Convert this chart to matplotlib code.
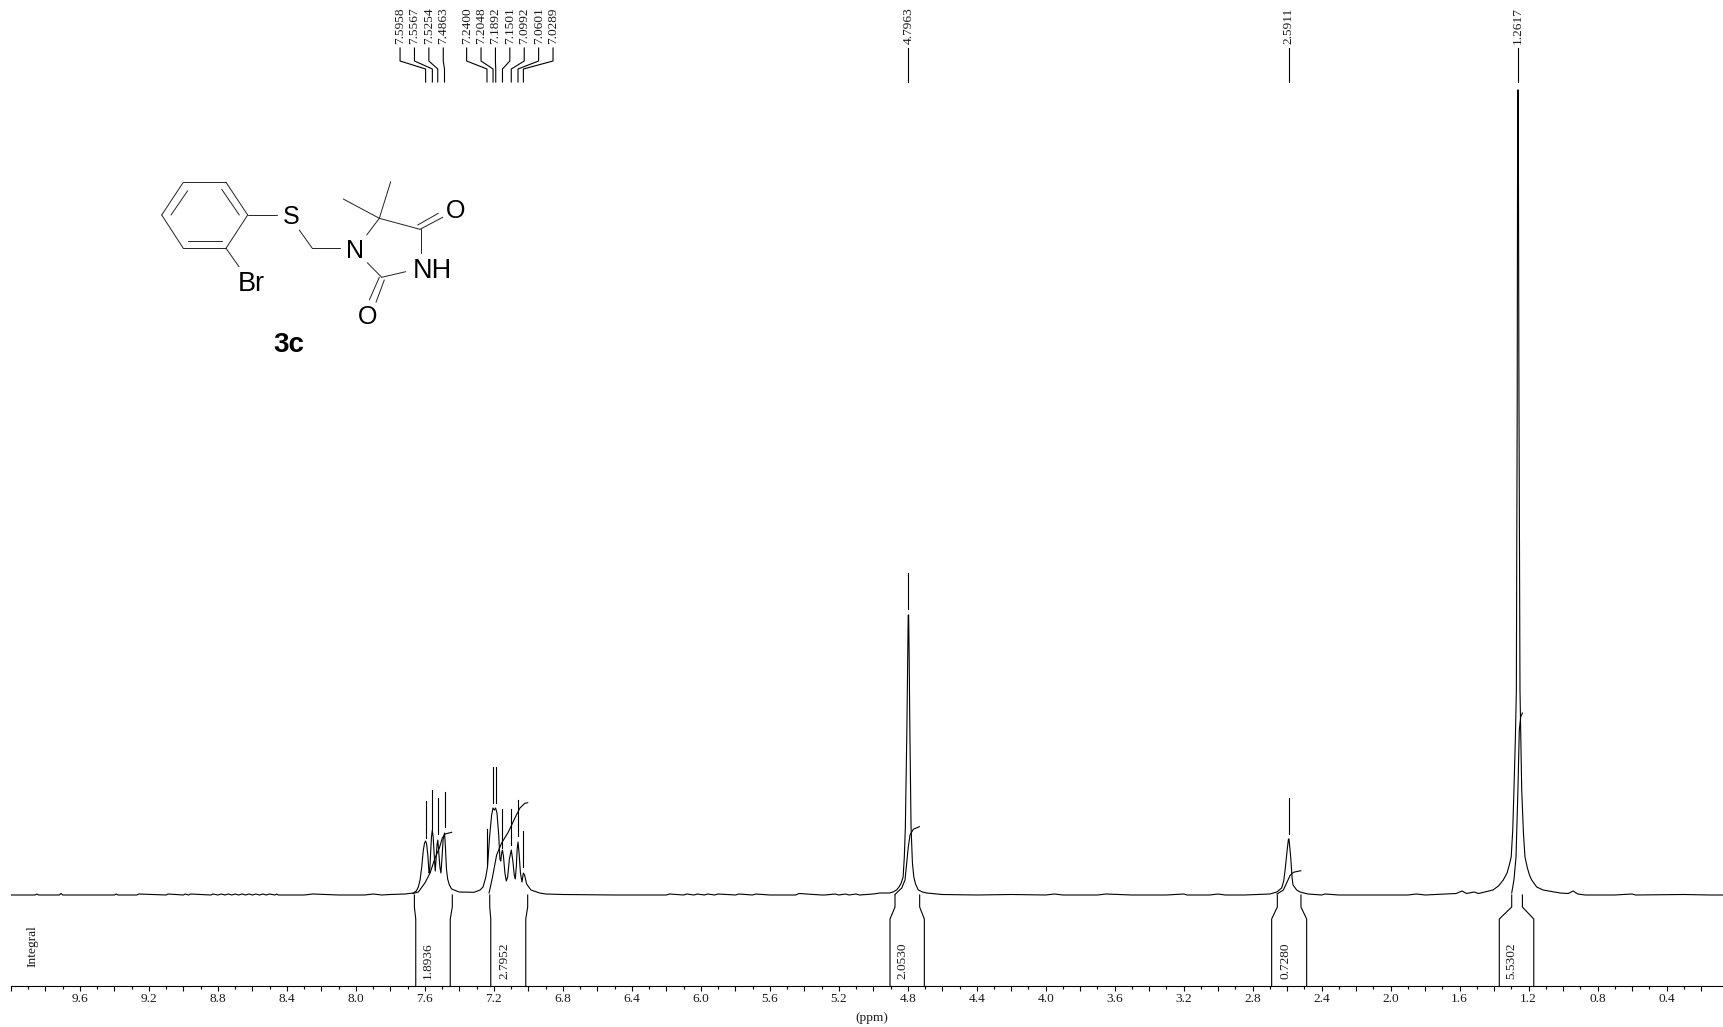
import matplotlib
matplotlib.use('Agg')
import matplotlib.pyplot as plt
from matplotlib.ticker import FixedLocator

# spectrum, (ppm, height above baseline) in stretches
base_left = [(10.0, 0), (9.86, 0), (9.85, 1), (9.84, 0), (9.72, 0), (9.71, 1.5), (9.70, 0), (9.40, 0), (9.39, 1), (9.38, 0),
             (9.27, 0), (9.26, 1), (9.10, 0), (9.09, 1), (9.00, 0), (8.99, 1), (8.97, 0), (8.96, 1), (8.84, 0), (8.83, 1),
             (8.80, 0), (8.78, 1), (8.76, 0), (8.74, 1), (8.72, 0), (8.70, 1), (8.68, 0), (8.66, 1), (8.64, 0), (8.62, 1),
             (8.60, 0), (8.58, 1), (8.56, 0), (8.54, 1), (8.52, 0), (8.50, 1), (8.47, 0), (8.46, 1), (8.45, 0), (8.30, 0),
             (8.25, 1), (8.10, 0), (7.95, 0), (7.90, 1), (7.85, 0), (7.80, 0.5)]
aromatic_a = [(7.715, 1), (7.667, 2), (7.650, 4), (7.638, 8), (7.628, 15), (7.619, 27), (7.609, 45), (7.602, 52), (7.596, 54),
              (7.590, 51), (7.583, 40), (7.576, 22), (7.572, 24), (7.567, 42), (7.562, 58), (7.557, 65), (7.552, 58),
              (7.546, 40), (7.540, 24), (7.535, 36), (7.530, 50), (7.525, 55), (7.520, 44), (7.513, 28), (7.507, 22),
              (7.502, 34), (7.494, 56), (7.486, 62), (7.481, 48), (7.475, 26), (7.468, 16), (7.458, 10),
              (7.445, 6), (7.402, 3)]
aromatic_b = [(7.315, 2.7), (7.280, 5), (7.263, 8), (7.248, 17), (7.237, 28), (7.225, 58), (7.213, 80), (7.205, 87), (7.197, 85),
              (7.190, 87), (7.182, 82), (7.172, 60), (7.165, 36), (7.160, 34), (7.155, 42), (7.150, 45), (7.144, 38), (7.136, 22),
              (7.128, 14), (7.120, 18), (7.110, 36), (7.099, 45), (7.090, 34), (7.082, 20), (7.076, 16), (7.070, 28), (7.065, 46),
              (7.060, 53), (7.054, 42), (7.046, 22), (7.037, 13), (7.029, 22), (7.022, 20), (7.010, 11), (6.985, 5), (6.935, 2),
              (6.900, 1), (6.800, 0.5)]
base_mid = [(6.50, 0), (6.20, 0), (6.18, 1), (6.10, 0), (6.08, 1), (6.04, 0), (6.02, 1), (5.98, 0), (5.96, 1), (5.92, 0),
            (5.90, 1), (5.80, 0), (5.78, 1), (5.70, 0), (5.68, 1), (5.60, 0), (5.45, 0), (5.43, 1.5), (5.30, 0), (5.28, 0),
            (5.22, 1), (5.20, 0), (5.16, 1), (5.14, 0), (5.10, 1), (5.08, 0), (5.00, 1)]
peak_48 = [(4.961, 2), (4.905, 2), (4.886, 3), (4.865, 5), (4.851, 8), (4.838, 12), (4.827, 18), (4.820, 38), (4.814, 68),
           (4.805, 168), (4.800, 240), (4.7975, 280), (4.7950, 280), (4.792, 240), (4.788, 168), (4.781, 68), (4.773, 32),
           (4.765, 18), (4.755, 11), (4.739, 5), (4.715, 3), (4.690, 2), (4.60, 0.5)]
base_mid2 = [(4.40, 0), (4.20, 0.5), (4.00, 0), (3.95, 1), (3.90, 0), (3.70, 0), (3.65, 1), (3.50, 0), (3.30, 0), (3.20, 1),
             (3.18, 0), (3.05, 0), (3.00, 1), (2.96, 0), (2.85, 0)]
peak_26 = [(2.700, 1), (2.660, 3), (2.632, 7), (2.620, 14), (2.612, 25), (2.600, 45), (2.5925, 56), (2.5895, 56), (2.579, 37),
           (2.572, 18), (2.566, 10), (2.545, 5), (2.525, 3), (2.480, 1)]
base_right = [(2.40, 0), (2.38, 1), (2.30, 0), (2.10, 0), (1.90, 0), (1.85, 1), (1.80, 0), (1.683, 1), (1.620, 1.5), (1.586, 4),
              (1.560, 1.5), (1.516, 3), (1.490, 1.5)]
peak_12 = [(1.407, 5), (1.375, 9), (1.347, 15), (1.325, 22), (1.312, 30), (1.301, 38), (1.292, 65), (1.285, 105), (1.277, 155),
           (1.271, 205), (1.266, 500), (1.2635, 805), (1.2600, 805), (1.256, 500), (1.250, 205), (1.245, 155), (1.240, 105),
           (1.230, 62), (1.221, 38), (1.207, 27), (1.195, 20), (1.182, 15), (1.165, 11), (1.153, 8), (1.116, 5), (1.018, 2),
           (0.97, 1.5), (0.942, 4), (0.915, 1), (0.872, 0), (0.70, 0), (0.60, 1), (0.58, 0), (0.30, 0.5), (0.15, 0), (0.067, 0)]
spectrum = base_left + aromatic_a + aromatic_b + base_mid + peak_48 + base_mid2 + peak_26 + base_right + peak_12

# integral curves, one per region
integral_ppm = [[7.669, 7.638, 7.600, 7.570, 7.541, 7.516, 7.499, 7.483, 7.445],
                [7.228, 7.209, 7.184, 7.155, 7.116, 7.078, 7.049, 7.020, 7.004],
                [4.874, 4.835, 4.816, 4.797, 4.787, 4.768, 4.733],
                [2.659, 2.622, 2.603, 2.584, 2.564, 2.521],
                [1.298, 1.285, 1.273, 1.262, 1.254, 1.246, 1.236]]
integral_val = [[1.5, 3, 12, 22, 37, 47, 57, 61, 62.7],
                [2, 17, 40, 52, 63, 77, 87, 91.7, 92.3],
                [0.5, 7, 15, 48, 60, 65.7, 68.3],
                [1, 5, 12, 19.3, 22.7, 24.3],
                [2, 15, 38, 105, 165, 178, 182]]

# integral brackets: limits at the axis and at the spectrum, and the value printed
region_outer = [(7.653, 7.453), (7.218, 7.015), (4.903, 4.704), (2.690, 2.487), (1.370, 1.170)]
region_inner = [(7.661, 7.441), (7.224, 7.004), (4.874, 4.731), (2.657, 2.520), (1.298, 1.236)]
region_text = ["1.8936", "2.7952", "2.0530", "0.7280", "5.5302"]
region_text_ppm = [7.582, 7.141, 4.829, 2.607, 1.298]

# peak picks: ppm, where the little mark above the peak starts and ends
peaks = [7.5958, 7.5567, 7.5254, 7.4863, 7.2400, 7.2048, 7.1892, 7.1501, 7.0992, 7.0601, 7.0289, 4.7963, 2.5911, 1.2617]
peak_low = [57, 66, 61, 68, 30, 92, 92, 47, 50, 59, 28, 286, 61, 805]
peak_high = [94, 105, 97, 103, 66, 128, 128, 86, 86, 95, 64, 322, 97, 813]
peak_label_ppm = [7.744, 7.6605, 7.577, 7.4935, 7.358, 7.2745, 7.191, 7.1075, 7.024, 6.9405, 6.857, 4.7963, 2.5911, 1.2617]
peak_text = ["%.4f" % p for p in peaks]

tick_major = [10.0 - 0.2 * i for i in range(50)]
tick_minor = [9.9 - 0.2 * i for i in range(49)]
tick_names = ["9.6", "9.2", "8.8", "8.4", "8.0", "7.6", "7.2", "6.8", "6.4", "6.0", "5.6", "5.2",
              "4.8", "4.4", "4.0", "3.6", "3.2", "2.8", "2.4", "2.0", "1.6", "1.2", "0.8", "0.4"]

# structure drawing, pixel positions on the page
bonds = [((183.3, 182.3), (226, 182.3)), ((226, 182.3), (247.7, 215)), ((247.7, 215), (226, 248.3)),
         ((226, 248.3), (183.3, 248.3)), ((183.3, 248.3), (161.7, 215)), ((161.7, 215), (183.3, 182.3)),
         ((187.7, 190.7), (171, 215)), ((221.7, 189.3), (239.3, 215)), ((188.3, 241), (221.7, 241)),
         ((247.7, 215), (277.3, 215)), ((299.3, 230), (312.3, 248.3)), ((312.3, 248.3), (340, 248.3)),
         ((366.7, 235), (379.3, 218.3)), ((379.3, 218.3), (343.3, 199)), ((379.3, 218.3), (390.7, 181.7)),
         ((379.3, 218.3), (420, 229.3)), ((420, 229.3), (442.7, 217.3)), ((417.7, 225), (438.3, 213.3)),
         ((421, 229.3), (421, 252.7)), ((405.7, 271.7), (381.7, 277.3)), ((381.7, 277.3), (367.3, 262.7)),
         ((384.3, 280), (376, 302.3)), ((379.3, 277.3), (369.3, 300)), ((226, 248.3), (239, 266.7))]
atoms = [("S", 291, 217.5), ("N", 355, 251), ("O", 456, 211), ("NH", 432, 271), ("O", 367.7, 316.7), ("Br", 251.5, 284)]
atom_size = [18, 18, 18, 19.5, 18, 19.5]

plt.rcParams['font.family'] = ['Liberation Serif', 'DejaVu Serif']

fig = plt.figure(figsize=(17.24, 10.27), dpi=100)
# axis line sits at y=986 px, one intensity unit is one pixel, baseline at y=895
ax = fig.add_axes([11 / 1724, (1027 - 986) / 1027, 1713 / 1724, 986 / 1027])
ax.set_xlim(10.0, 0.067)
ax.set_ylim(-91, 895)
ax.patch.set_alpha(0)

lw = 0.8
text_size = 9.6
text_colour = '#1a1a1a'
ax.plot([p[0] for p in spectrum], [p[1] for p in spectrum], color='k', lw=lw)

for xs, ys in zip(integral_ppm, integral_val):
    ax.plot(xs, ys, color='k', lw=lw)

for (ol, or_), (il, ir) in zip(region_outer, region_inner):
    ax.plot([ol, ol, il, il], [-91, -24, -12, 0], color='k', lw=lw)
    ax.plot([or_, or_, ir, ir], [-91, -24, -12, 0], color='k', lw=lw)

for name, x in zip(region_text, region_text_ppm):
    ax.text(x, -84, name, rotation=90, ha='center', va='bottom', fontsize=text_size, color=text_colour)

for p, low, high, lab, name in zip(peaks, peak_low, peak_high, peak_label_ppm, peak_text):
    if low != 805:
        ax.plot([p, p], [low, high], color='k', lw=lw)
    ax.plot([lab, lab, p, p], [847, 834, 826, 813], color='k', lw=lw)
    ax.text(lab, 851, name, rotation=90, ha='center', va='bottom', fontsize=text_size, color=text_colour)

for side in ['top', 'left', 'right']:
    ax.spines[side].set_visible(False)
ax.spines['bottom'].set_linewidth(lw)
ax.set_yticks([])
ax.xaxis.set_major_locator(FixedLocator(tick_major))
ax.xaxis.set_minor_locator(FixedLocator(tick_minor))
labels = [""] * len(tick_major)
for i, name in enumerate(tick_names):
    labels[2 * i + 2] = name
ax.set_xticklabels(labels)
ax.tick_params(axis='x', which='major', length=3.6, width=lw, pad=1.5, labelsize=text_size, labelcolor=text_colour)
ax.tick_params(axis='x', which='minor', length=2.2, width=lw)

ax.text(9.878, -72, "Integral", rotation=90, ha='center', va='bottom', fontsize=text_size, color=text_colour)
ax.text(5.008, -123, "(ppm)", ha='center', va='center', fontsize=text_size, color=text_colour, clip_on=False)

# structure overlay in page pixels
page = fig.add_axes([0, 0, 1, 1])
page.set_xlim(0, 1724)
page.set_ylim(1027, 0)
page.axis('off')
for a, b in bonds:
    page.plot([a[0], b[0]], [a[1], b[1]], color='#222222', lw=0.7, solid_capstyle='round')
for (name, x, y), size in zip(atoms, atom_size):
    page.text(x, y, name, family='Liberation Sans', fontsize=size, ha='center', va='center', color='k')
page.text(289, 345, "3c", family='Liberation Sans', fontsize=20, fontweight='bold', ha='center', va='center', color='k')

plt.savefig("out.png", dpi=100)
